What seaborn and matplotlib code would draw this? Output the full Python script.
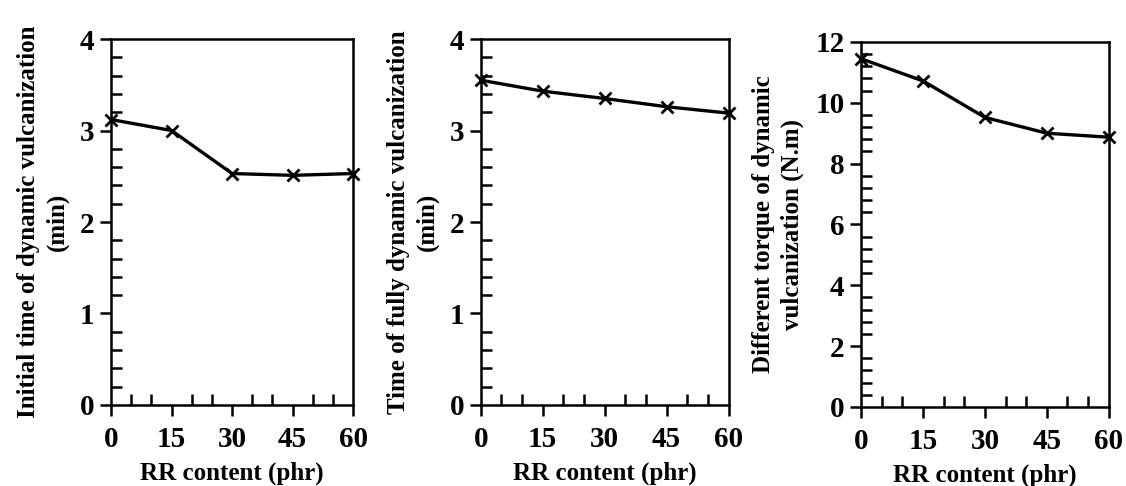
import matplotlib
matplotlib.use("Agg")
import matplotlib.pyplot as plt
import seaborn as sns
import pandas as pd
from matplotlib.ticker import MultipleLocator

rr_content = [0, 15, 30, 45, 60]
initial_time = [3.12, 3.00, 2.53, 2.51, 2.53]
full_time = [3.55, 3.43, 3.35, 3.26, 3.19]
torque_diff = [11.45, 10.72, 9.52, 9.00, 8.87]

xlabel = "RR content (phr)"
ylabels = ["Initial time of dynamic vulcanization\n(min)",
           "Time of fully dynamic vulcanization\n(min)",
           "Different torque of dynamic\nvulcanization (N.m)"]
ylims = [(0, 4), (0, 4), (0, 12)]
ymajor = [1, 1, 2]
yminor = [0.2, 0.2, 0.4]

sns.set_theme(style="ticks")
plt.rcParams['font.family'] = ['Liberation Serif', 'DejaVu Serif']
plt.rcParams['font.weight'] = 'bold'

fig = plt.figure(figsize=(11.26, 4.86), dpi=100)
rects = [[0.0986, 0.1667, 0.215, 0.753],
         [0.427, 0.1667, 0.220, 0.753],
         [0.7647, 0.1626, 0.220, 0.751]]
series = [initial_time, full_time, torque_diff]

for i, (r, ys) in enumerate(zip(rects, series)):
    ax = fig.add_axes(r)
    df = pd.DataFrame({"x": rr_content, "y": ys})
    sns.lineplot(data=df, x="x", y="y", ax=ax, color="black", linewidth=2.4,
                 marker="x", markersize=9, markeredgewidth=2, markeredgecolor="black",
                 clip_on=False, zorder=5)
    ax.set_xlim(0, 60)
    ax.set_ylim(*ylims[i])
    ax.xaxis.set_major_locator(MultipleLocator(15))
    ax.xaxis.set_minor_locator(MultipleLocator(5))
    ax.yaxis.set_major_locator(MultipleLocator(ymajor[i]))
    ax.yaxis.set_minor_locator(MultipleLocator(yminor[i]))
    ax.tick_params(which="major", direction="out", length=8, width=1.8,
                   labelsize=21, color="black", labelcolor="black", pad=4)
    ax.tick_params(axis="x", which="major", pad=7)
    ax.tick_params(which="minor", direction="in", length=8, width=1.8, color="black")
    ax.tick_params(axis="both", which="both", top=False, right=False)
    for lab in ax.get_xticklabels() + ax.get_yticklabels():
        lab.set_fontweight("bold")
    for s in ax.spines.values():
        s.set_linewidth(1.8)
        s.set_color("black")
    ax.set_xlabel(xlabel, fontsize=18, fontweight="bold", labelpad=6, color="black")
    ax.set_ylabel(ylabels[i], fontsize=18, fontweight="bold", labelpad=8, color="black",
                  linespacing=1.3)
    ax.grid(False)

fig.savefig("out.png", dpi=100, facecolor="white")
